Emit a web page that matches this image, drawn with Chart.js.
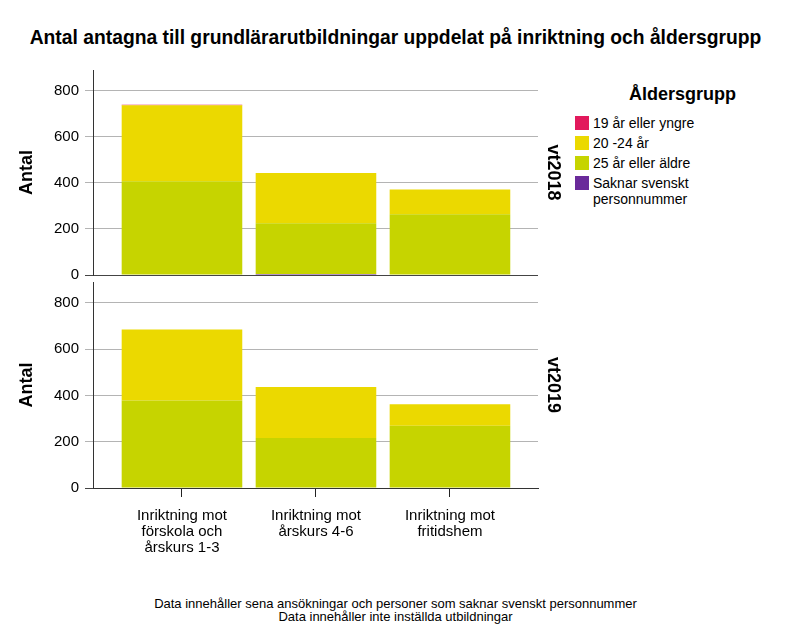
<!DOCTYPE html>
<html lang="sv">
<head>
<meta charset="UTF-8">
<title>Antal antagna till grundlärarutbildningar</title>
<script src="https://cdn.jsdelivr.net/npm/chart.js"></script>
<style>
    body { margin: 0; background: #fff; font-family: "Liberation Sans", Arial, sans-serif; }
    #wrap { position: relative; width: 791px; height: 633px; overflow: hidden; }
    #title { position: absolute; left: 0; width: 791px; top: 27px; text-align: center;
             font-weight: bold; font-size: 19.3px; color: #000; }
    .panel { position: absolute; left: 0; }
    #legend { position: absolute; left: 575px; top: 84px; color: #000; }
    #legend h4 { margin: 0 0 10px 54px; font-size: 18px; font-weight: bold; }
    #legend .item { display: flex; align-items: flex-start; font-size: 14px; line-height: 16px; margin-bottom: 4px; }
    #legend .sw { width: 14px; height: 14px; margin-right: 4px; margin-top: 1px; flex: none; }
    #foot { position: absolute; left: 0; width: 791px; top: 597px; text-align: center;
            font-size: 13px; line-height: 13px; color: #000; }
</style>
</head>
<body>
<div id="wrap">
    <div id="title">Antal antagna till grundlärarutbildningar uppdelat på inriktning och åldersgrupp</div>
    <canvas id="chart2018" class="panel" style="top:55px"></canvas>
    <canvas id="chart2019" class="panel" style="top:267px"></canvas>
    <div id="legend"><h4>Åldersgrupp</h4></div>
    <div id="foot">Data innehåller sena ansökningar och personer som saknar svenskt personnummer<br>Data innehåller inte inställda utbildningar</div>
</div>
<script>
    // kategorier (x) och åldersgrupper
    const categories = [
        ["Inriktning mot", "förskola och", "årskurs 1-3"],
        ["Inriktning mot", "årskurs 4-6"],
        ["Inriktning mot", "fritidshem"]
    ];
    const groups = ["19 år eller yngre", "20 -24 år", "25 år eller äldre", "Saknar svenskt personnummer"];
    const groupLines = [["19 år eller yngre"], ["20 -24 år"], ["25 år eller äldre"], ["Saknar svenskt", "personnummer"]];
    const colors = ["#e2195c", "#ebd900", "#c6d400", "#6a2a9a"];

    // vt2018
    const young2018 = [2, 0, 0];
    const mid2018 = [330, 218, 107];
    const old2018 = [407, 221, 264];
    const noPnr2018 = [0, 4, 0];

    // vt2019
    const young2019 = [0, 0, 0];
    const mid2019 = [307, 220, 93];
    const old2019 = [378, 216, 269];
    const noPnr2019 = [0, 0, 0];

    const yTicks = [0, 200, 400, 600, 800];

    // legend
    const legend = document.getElementById("legend");
    groups.forEach((g, i) => {
        const row = document.createElement("div");
        row.className = "item";
        row.innerHTML = '<span class="sw" style="background:' + colors[i] + '"></span><span>' + groupLines[i].join("<br>") + '</span>';
        legend.appendChild(row);
    });

    function makeChart(id, h, series, year, showX) {
        const canvas = document.getElementById(id);
        canvas.width = 570;
        canvas.height = h;
        canvas.style.width = "570px";
        canvas.style.height = h + "px";
        // ordning nerifrån: saknar, 25+, 20-24, 19
        const order = [3, 2, 1, 0];
        const datasets = order.map(k => ({
            label: groups[k],
            data: series[k].map((v, i) => ({ x: i + 1, y: v })),
            backgroundColor: colors[k],
            borderWidth: 0,
            barPercentage: 0.9,
            categoryPercentage: 1.0
        }));
        return new Chart(canvas, {
            type: "bar",
            data: { datasets: datasets },
            options: {
                responsive: false,
                animation: false,
                layout: { padding: { top: 0, bottom: showX ? 0 : 14, left: 0, right: 0 } },
                plugins: { legend: { display: false }, tooltip: { enabled: false } },
                scales: {
                    x: {
                        type: "linear",
                        stacked: true,
                        display: showX,
                        offset: false,
                        min: 0.336,
                        max: 3.657,
                        afterBuildTicks: s => { s.ticks = [1, 2, 3].map(v => ({ value: v })); },
                        afterFit: s => { if (showX) s.height = 72; },
                        ticks: {
                            autoSkip: false,
                            maxRotation: 0,
                            padding: 11,
                            color: "#000",
                            font: { family: "Liberation Sans", size: 15, lineHeight: 1.05 },
                            callback: v => categories[v - 1]
                        },
                        grid: { offset: false, drawOnChartArea: false, tickLength: 9, color: "#222" },
                        border: { color: "#333" }
                    },
                    y: {
                        stacked: true,
                        min: 0,
                        max: 890,
                        afterBuildTicks: s => { s.ticks = yTicks.map(v => ({ value: v })); },
                        afterFit: s => { s.width = 93; },
                        ticks: {
                            padding: 6,
                            color: "#000",
                            font: { family: "Liberation Sans", size: 15 }
                        },
                        grid: {
                            tickLength: 8,
                            color: ctx => ctx.tick && ctx.tick.value === 0 ? "#444" : "#b4b4b4"
                        },
                        border: { color: "#333" },
                        title: {
                            display: true,
                            text: "Antal",
                            color: "#000",
                            padding: { top: 16, bottom: 0 },
                            font: { family: "Liberation Sans", size: 18, weight: "bold" }
                        }
                    },
                    yr: {
                        position: "right",
                        afterFit: s => { s.width = 32; },
                        ticks: { display: false },
                        grid: { display: false },
                        border: { display: false },
                        title: {
                            display: true,
                            text: year,
                            color: "#000",
                            padding: { top: 6, bottom: 0 },
                            font: { family: "Liberation Sans", size: 18, weight: "bold" }
                        }
                    }
                }
            }
        });
    }

    makeChart("chart2018", 235,
        [young2018, mid2018, old2018, noPnr2018], "vt2018", false);
    makeChart("chart2019", 293,
        [young2019, mid2019, old2019, noPnr2019], "vt2019", true);
</script>
</body>
</html>
